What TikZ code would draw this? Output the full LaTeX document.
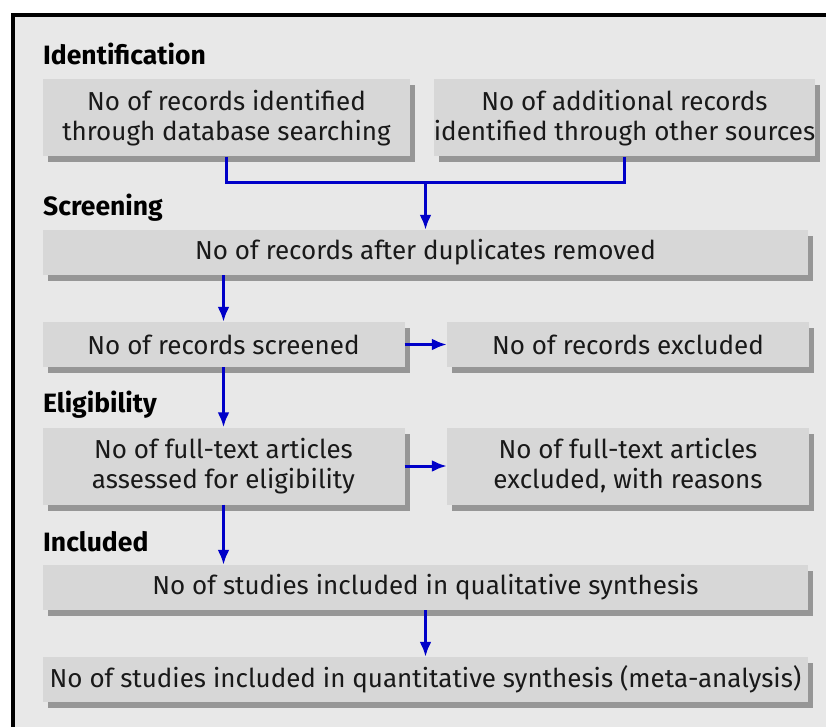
\documentclass[tikz,border=0pt]{standalone}
\usepackage{fontspec}
\setmainfont{Fira Sans}
\usepackage{tikz}
\usetikzlibrary{arrows.meta, shadows}

\definecolor{panelgray}{RGB}{232,232,232}
\definecolor{boxgray}{RGB}{215,215,215}
\definecolor{shadegray}{RGB}{150,150,150}
\definecolor{flowblue}{RGB}{0,0,200}

\begin{document}
\begin{tikzpicture}[
    x=1pt, y=-1pt,
    stagebox/.style={rectangle, fill=boxgray, inner sep=0pt, align=center,
        font=\fontsize{26}{30}\selectfont, text=black!90,
        drop shadow={shadow xshift=5pt, shadow yshift=-6pt, fill=shadegray, opacity=1}},
    widebox/.style={stagebox, minimum width=765pt, minimum height=45pt},
    halfbox/.style={stagebox, minimum width=362pt, minimum height=45pt},
    tallbox/.style={stagebox, minimum width=362pt, minimum height=77pt},
    phase/.style={anchor=base west, inner sep=0pt, font=\fontsize{26.5}{30}\selectfont\bfseries},
    arrow/.style={-{Latex[length=15pt, width=12pt]}, flowblue, line width=3pt},
    line/.style={flowblue, line width=3pt}
]
\useasboundingbox (0,0) rectangle (826,727);

% Frame
\draw[line width=4pt, fill=panelgray] (12.5,15) rectangle (860,760);

% Identification
\node[phase] (idhead) at (43,65) {Identification};
\node[tallbox, minimum width=367pt] (dbrec) at (226.5,118) {No of records identified\\through database searching};
\node[tallbox, minimum width=367pt] (otherrec) at (624.5,118) {No of additional records\\identified through other sources};

% Screening
\node[phase] (scrhead) at (43,215) {Screening};
\node[widebox] (dedup) at (425.5,252.5) {No of records after duplicates removed};
\node[halfbox] (screened) at (223.5,344.5) {No of records screened};
\node[halfbox] (excluded) at (628,344.5) {No of records excluded};

% Eligibility
\node[phase] (elhead) at (43,412) {Eligibility};
\node[tallbox] (fulltext) at (223.5,466) {No of full-text articles\\assessed for eligibility};
\node[tallbox] (ftexcl) at (628,466) {No of full-text articles\\excluded, with reasons};

% Included
\node[phase] (inhead) at (43,551) {Included};
\node[widebox] (qual) at (425.5,587.5) {No of studies included in qualitative synthesis};
\node[widebox] (quant) at (425.5,679.5) {No of studies included in quantitative synthesis (meta-analysis)};

% Arrows
\coordinate (merge) at (425.5,183);
\draw[line] (dbrec.south) |- (merge) -| (otherrec.south);
\draw[arrow] (merge) -- (dedup.north);
\draw[arrow] (dedup.south -| screened.north) -- (screened.north);
\draw[arrow] (screened) -- (excluded);
\draw[arrow] (screened) -- (fulltext);
\draw[arrow] (fulltext) -- (ftexcl);
\draw[arrow] (fulltext) -- (fulltext |- qual.north);
\draw[arrow] (qual) -- (quant);

\end{tikzpicture}
\end{document}
